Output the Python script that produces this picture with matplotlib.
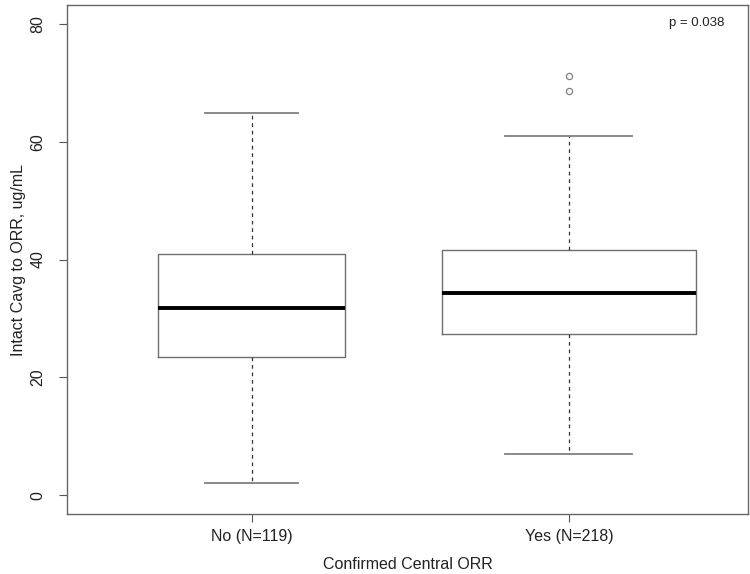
import matplotlib
matplotlib.use('Agg')
import matplotlib.pyplot as plt

plt.rcParams['font.family'] = ['Liberation Sans', 'DejaVu Sans']

# response groups and box statistics (ug/mL)
groups = ['No (N=119)', 'Yes (N=218)']
n_pat = [119, 218]
whislo = [2.1, 7.0]
q1 = [23.5, 27.3]
med = [31.8, 34.3]
q3 = [40.9, 41.6]
whishi = [64.9, 61.0]
fliers = [[], [71.1, 68.6]]

stats = []
for i in range(len(groups)):
    stats.append(dict(label=groups[i], whislo=whislo[i], q1=q1[i], med=med[i],
                      q3=q3[i], whishi=whishi[i], fliers=fliers[i]))

# box width grows with sqrt(n)
nmax = max(n_pat)
widths = [0.8 * (n / nmax) ** 0.5 for n in n_pat]

fig = plt.figure(figsize=(7.5, 5.74), dpi=100)
W, H = 750, 574
x0, x1, y0, y1 = 67.4, 748, 5, 514
ax = fig.add_axes([x0 / W, 1 - y1 / H, (x1 - x0) / W, (y1 - y0) / H])

ax.bxp(stats, positions=[1, 2], widths=widths, showcaps=True,
       boxprops=dict(color='#707070', linewidth=1.0),
       whiskerprops=dict(color='#333333', linewidth=0.9, linestyle=(0, (3, 3))),
       capprops=dict(color='#808080', linewidth=1.3),
       medianprops=dict(color='black', linewidth=2.8, solid_capstyle='butt'),
       flierprops=dict(marker='o', markerfacecolor='none', markeredgecolor='#808080',
                       markersize=4.5, markeredgewidth=0.9))

ax.set_xlim(0.42, 2.564)
ax.set_ylim(-3.2, 83.2)
ax.set_yticks([0, 20, 40, 60, 80])
ax.set_xticks([1, 2])
ax.set_xticklabels(groups)

for lab in ax.get_yticklabels():
    lab.set_rotation(90)
    lab.set_va('center')

ax.tick_params(axis='both', direction='out', length=6, width=0.8, color='#555555',
               labelsize=11.5, labelcolor='#222222')
ax.tick_params(axis='y', pad=10)
ax.tick_params(axis='x', pad=5)

for sp in ax.spines.values():
    sp.set_color('#666666')
    sp.set_linewidth(1.0)

ax.set_ylabel('Intact Cavg to ORR, ug/mL', fontsize=11.5, color='#222222', labelpad=3)
ax.set_xlabel('Confirmed Central ORR', fontsize=11.5, color='#222222', labelpad=9)

ax.text(0.925, 0.965, 'p = 0.038', transform=ax.transAxes, ha='center', va='center',
        fontsize=9.5, color='#222222')

fig.savefig('out.png', dpi=100)
